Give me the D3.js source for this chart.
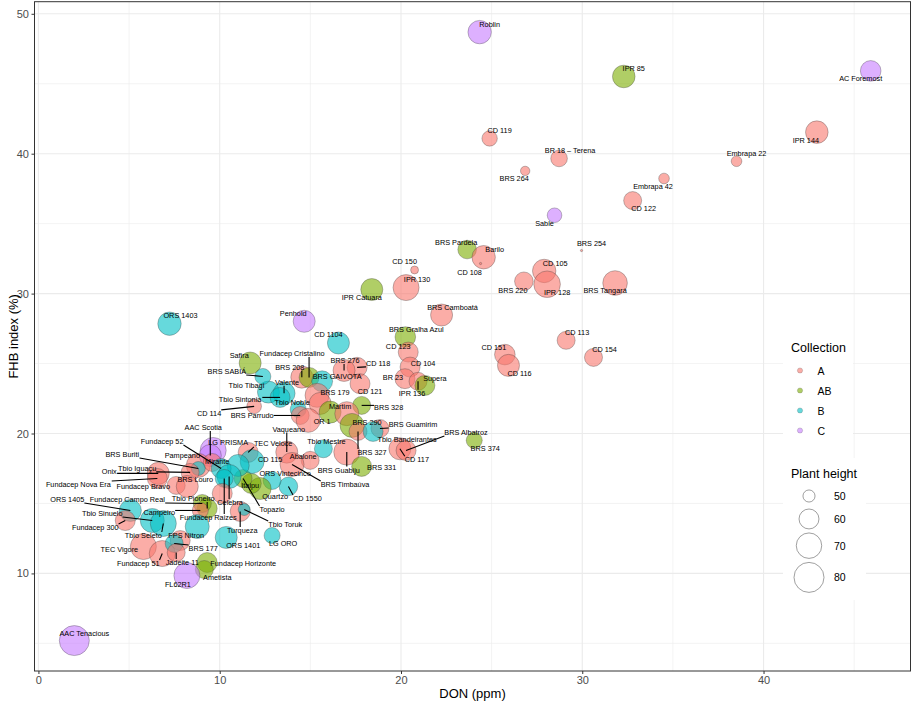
<!DOCTYPE html>
<html>
<head>
<meta charset="utf-8">
<script src="https://cdn.jsdelivr.net/npm/d3@7"></script>
<style>
  body { margin: 0; background: #fff; }
  text { font-family: 'Liberation Sans', Arial, sans-serif; }
</style>
</head>
<body>
<script>
// ---- data ----
var names = [
    'Roblin', 'IPR 85', 'AC Foremost', 'CD 119', 'BR 18 \u2013 Terena', 'BRS 264', 'IPR 144', 'Embrapa 22', 'Embrapa 42', 'CD 122',
    'Sable', 'BRS Pardela', 'Barilo', 'CD 108', 'BRS 254', 'CD 105', 'IPR 128', 'BRS 220', 'BRS Tangar\u00e1', 'BRS Camboat\u00e1',
    'CD 150', 'IPR 130', 'IPR Catuara', 'CD 113', 'CD 154', 'CD 151', 'CD 116', 'BRS Gralha Azul', 'CD 123', 'CD 104',
    'BR 23', 'IPR 136', 'Supera', 'CD 118', 'BRS 276', 'CD 121', 'BRS 208', 'Fundacep Cristalino', 'BRS GAIVOTA', 'BRS 179',
    '', 'Martim', 'BRS 328', '', 'BRS 290', 'BRS 327', 'BRS Guamirim', 'Tbio Bandeirantes', 'CD 117', 'BRS Albatroz',
    'BRS 374', 'Tbio Noble', 'BRS Parrudo', 'OR 1', 'Tbio Tibagi', 'Valente', 'Tbio Sintonia', 'CD 114', 'BRS SABI\u00c1', 'Safira',
    'Penhold', 'ORS 1403', 'CD 1104', 'Tbio Mestre', 'BRS Guabiju', 'BRS 331', 'Vaqueano', 'Abalone', 'BRS Timba\u00fava', 'CD 1550',
    'ORS Vintecinco', 'Quartzo', 'Itaipu', 'Topazio', 'TEC Veloce', 'CD 115', 'LG PRISMA', 'AAC Scotia', 'Pampeano', 'Mirante',
    '', 'Fundacep 52', 'BRS Buriti', 'Tbio Igua\u00e7u', 'Onix', 'Fundacep Nova Era', 'Fundacep Bravo', 'BRS Louro', 'Celebra', 'Fundacep Raizes',
    '', 'Tbio Pioneiro', 'Fundacep Campo Real', 'Campeiro', 'ORS 1405', 'Tbio Sinuelo', 'Fundacep 300', 'Tbio Seleto', '', 'TEC Vigore',
    'Fundacep 51', 'FPS Nitron', 'BRS 177', 'Jadeite 11', 'Fundacep Horizonte', 'Ametista', 'FL62R1', 'AAC Tenacious', 'ORS 1401', 'LG ORO',
    'Turqueza', 'Tbio Toruk'
];

var don = [
    24.34, 32.29, 45.91, 24.89, 28.72, 26.85, 42.94, 38.51, 34.51, 32.78,
    28.47, 23.65, 24.56, 24.39, 29.96, 27.90, 28.06, 26.78, 31.81, 22.24,
    20.75, 20.28, 18.39, 29.11, 30.62, 25.73, 25.93, 20.24, 20.40, 20.50,
    20.22, 20.94, 21.32, 17.58, 16.86, 17.74, 14.53, 14.93, 15.65, 15.37,
    15.54, 16.09, 17.83, 17.01, 17.30, 17.63, 18.84, 18.46, 19.94, 20.28,
    24.04, 14.33, 14.44, 14.88, 12.69, 13.55, 13.33, 11.90, 12.38, 11.68,
    14.66, 7.23, 16.55, 15.72, 17.01, 17.83, 13.70, 14.99, 13.99, 13.79,
    12.89, 12.23, 11.74, 11.29, 11.57, 11.79, 9.64, 9.48, 8.82, 9.59,
    11.02, 10.08, 8.82, 8.37, 6.61, 6.56, 7.60, 8.21, 10.52, 10.25,
    10.14, 9.31, 9.04, 8.93, 5.07, 6.28, 4.79, 6.89, 8.76, 5.79,
    6.83, 7.82, 7.49, 7.60, 9.31, 9.15, 8.19, 1.98, 10.36, 12.89,
    11.13, 11.35
];

var fhb = [
    48.69, 45.52, 45.92, 41.09, 39.66, 38.77, 41.54, 39.46, 38.23, 36.65,
    35.60, 33.15, 32.60, 32.15, 33.08, 31.62, 30.67, 30.88, 30.76, 28.47,
    31.69, 30.43, 30.29, 26.66, 25.44, 25.64, 24.87, 26.90, 25.82, 24.75,
    23.92, 23.73, 23.44, 24.73, 24.51, 23.56, 24.03, 24.01, 23.73, 22.73,
    22.15, 21.53, 22.01, 21.42, 20.58, 20.15, 20.36, 20.15, 18.91, 18.79,
    19.51, 21.72, 21.29, 20.94, 22.96, 22.87, 22.58, 21.94, 24.08, 25.04,
    28.02, 27.85, 26.47, 18.91, 18.67, 17.65, 18.67, 18.08, 17.79, 16.22,
    16.64, 16.07, 16.43, 16.79, 18.65, 18.00, 18.79, 18.43, 17.72, 17.93,
    17.72, 17.50, 17.50, 17.22, 17.15, 16.79, 16.29, 16.22, 16.93, 16.79,
    15.72, 14.64, 15.00, 14.50, 14.50, 13.78, 13.78, 13.57, 13.35, 11.92,
    11.42, 12.35, 12.14, 11.49, 10.78, 10.28, 9.85, 5.20, 12.57, 12.71,
    14.43, 14.57
];

var collection = [
    'C', 'AB', 'C', 'A', 'A', 'A', 'A', 'A', 'A', 'A',
    'C', 'AB', 'A', 'A', 'A', 'A', 'A', 'A', 'A', 'A',
    'A', 'A', 'AB', 'A', 'A', 'A', 'A', 'AB', 'A', 'A',
    'A', 'A', 'AB', 'A', 'A', 'A', 'A', 'AB', 'B', 'A',
    'A', 'AB', 'AB', 'A', 'AB', 'A', 'A', 'B', 'A', 'A',
    'AB', 'B', 'A', 'A', 'B', 'B', 'B', 'A', 'B', 'AB',
    'C', 'B', 'B', 'B', 'A', 'AB', 'A', 'A', 'A', 'B',
    'B', 'AB', 'AB', 'AB', 'A', 'B', 'C', 'C', 'A', 'A',
    'B', 'B', 'B', 'A', 'A', 'A', 'A', 'A', 'B', 'B',
    'A', 'AB', 'AB', 'A', 'B', 'B', 'A', 'B', 'B', 'A',
    'A', 'A', 'B', 'A', 'AB', 'AB', 'C', 'C', 'B', 'B',
    'A', 'B'
];

var plantHeight = [
    66.0, 64.5, 61.1, 53.6, 55.2, 47.7, 64.5, 48.7, 48.7, 57.1,
    52.7, 58.0, 66.0, 44.4, 44.4, 66.0, 72.3, 58.0, 68.3, 63.5,
    46.7, 71.1, 63.5, 57.1, 57.1, 61.1, 63.5, 61.1, 60.1, 60.1,
    60.1, 57.1, 60.1, 60.1, 63.5, 60.1, 63.5, 60.1, 61.7, 67.1,
    63.5, 63.5, 57.1, 67.1, 67.1, 57.1, 57.1, 60.1, 63.5, 60.1,
    54.4, 54.4, 57.1, 67.1, 63.5, 63.5, 60.1, 52.7, 54.4, 63.5,
    63.5, 66.0, 63.5, 57.1, 71.1, 60.1, 63.5, 57.1, 67.1, 58.0,
    57.1, 63.5, 60.1, 57.1, 60.1, 67.1, 71.1, 63.5, 67.1, 57.1,
    63.5, 60.1, 52.0, 57.1, 63.5, 60.1, 57.1, 63.5, 67.1, 57.1,
    60.1, 60.1, 57.1, 54.4, 63.5, 67.1, 60.1, 71.1, 67.1, 71.1,
    71.1, 60.1, 57.1, 57.1, 60.1, 57.1, 71.1, 80.0, 63.5, 54.4,
    60.1, 49.9
];

var collections = ['A', 'AB', 'B', 'C'];
var heightBreaks = [50, 60, 70, 80];
var xTicks = [0, 10, 20, 30, 40];
var yTicks = [10, 20, 30, 40, 50];

// label placement (pixel nudge from the point, like ggrepel left them)
var labelNudge = [
    [10, -8], [10, -8], [-10, 8], [10, -8], [11, -8], [-11, 8], [-11, 8], [10, -8], [-11, 8], [11, 8],
    [-10, 8], [-11, -7], [11, -8], [-11, 9], [10, -7], [11, -7], [10, 8], [-11, 9], [-10, 8], [11, -8],
    [-10, -8], [11, -8], [-10, 8], [11, -8], [11, -8], [-11, -7], [11, 8], [11, -7], [-10, -6], [13, -4],
    [-12, -1], [-6, 12], [10, -7], [21, -4], [1, -10], [10, 8], [-12, -10], [-17, -24], [15, -5], [18, -3],
    [0, 0], [10, -6], [27, 2], [0, 0], [15, -3], [14, 21], [33, -4], [34, 8], [17, 11], [60, -18],
    [11, 8], [-6, -7], [-48, 0], [14, 1], [-22, -7], [3, -11], [-40, 2], [-45, 7], [-36, -5], [-11, -8],
    [-11, -8], [11, -8], [-10, -8], [3, -7], [-8, 18], [20, 1], [2, -23], [-7, -4], [53, 20], [19, 12],
    [13, -7], [15, 8], [-1, 2], [29, 31], [25, -9], [18, -2], [15, -8], [-7, -28], [-16, -10], [5, -1],
    [0, 0], [-59, -27], [-76, -14], [-53, -4], [-49, -2], [-79, 6], [-33, 1], [8, -7], [1, 26], [-16, 39],
    [0, 0], [-14, -10], [-75, -4], [-41, 2], [-63, -11], [-50, -7], [-30, 7], [-20, 12], [0, 0], [-24, 3],
    [-24, 10], [6, -5], [29, 5], [6, 10], [36, 1], [13, 8], [-9, 9], [10, -7], [17, 8], [11, 8],
    [2, 19], [41, 15]
];

var width = 913, height = 703;
var panel = {left: 34.5, right: 910.5, top: 1.7, bottom: 671};

var points = names.map(function(n, i) {
    return {name: n, don: don[i], fhb: fhb[i], col: collection[i], h: plantHeight[i], nudge: labelNudge[i]};
});

function expand(ext) {
    var d = (ext[1] - ext[0]) * 0.05;
    return [ext[0] - d, ext[1] + d];
}

var x = d3.scaleLinear().domain(expand(d3.extent(don))).range([panel.left, panel.right]);
var y = d3.scaleLinear().domain(expand(d3.extent(fhb))).range([panel.bottom, panel.top]);
var size = d3.scaleRadial().domain([44.3, 80]).range([0.8, 15]);
var colour = d3.scaleOrdinal().domain(collections).range(['#F8766D', '#7CAE00', '#00BFC4', '#C77CFF']);

var svg = d3.select('body')
        .append('svg')
        .attr('width', width)
        .attr('height', height);

// Panel background and grid
svg.append('rect')
        .attr('x', panel.left).attr('y', panel.top)
        .attr('width', panel.right - panel.left)
        .attr('height', panel.bottom - panel.top)
        .attr('fill', 'white');

var grid = svg.append('g');
grid.selectAll('.xminor').data(x.ticks(10).filter(function(t) { return xTicks.indexOf(t) < 0; }))
    .enter().append('line')
        .attr('x1', function(d) { return x(d); }).attr('x2', function(d) { return x(d); })
        .attr('y1', panel.top).attr('y2', panel.bottom)
        .attr('stroke', '#ebebeb').attr('stroke-width', 0.6);
grid.selectAll('.yminor').data(y.ticks(10).filter(function(t) { return yTicks.indexOf(t) < 0; }))
    .enter().append('line')
        .attr('y1', function(d) { return y(d); }).attr('y2', function(d) { return y(d); })
        .attr('x1', panel.left).attr('x2', panel.right)
        .attr('stroke', '#ebebeb').attr('stroke-width', 0.6);
grid.selectAll('.xmajor').data(xTicks)
    .enter().append('line')
        .attr('x1', function(d) { return x(d); }).attr('x2', function(d) { return x(d); })
        .attr('y1', panel.top).attr('y2', panel.bottom)
        .attr('stroke', '#ebebeb').attr('stroke-width', 1.1);
grid.selectAll('.ymajor').data(yTicks)
    .enter().append('line')
        .attr('y1', function(d) { return y(d); }).attr('y2', function(d) { return y(d); })
        .attr('x1', panel.left).attr('x2', panel.right)
        .attr('stroke', '#ebebeb').attr('stroke-width', 1.1);

// Legend boxes sit inside the panel, on white
svg.append('rect').attr('x', 783).attr('y', 335).attr('width', 70).attr('height', 110).attr('fill', 'white');
svg.append('rect').attr('x', 783).attr('y', 458).attr('width', 83).attr('height', 142).attr('fill', 'white');

// Points
svg.append('g').selectAll('circle').data(points)
    .enter().append('circle')
        .attr('cx', function(d) { return x(d.don); })
        .attr('cy', function(d) { return y(d.fhb); })
        .attr('r', function(d) { return size(d.h); })
        .attr('fill', function(d) { return colour(d.col); })
        .attr('fill-opacity', 0.6)
        .attr('stroke', '#3a3a3a')
        .attr('stroke-opacity', 0.55)
        .attr('stroke-width', 0.6);

// Labels with repel-style segments
var segs = svg.append('g');
var labs = svg.append('g');
points.forEach(function(d) {
    if (!d.name) return;
    var px = x(d.don), py = y(d.fhb);
    var t = labs.append('text')
            .attr('x', px + d.nudge[0])
            .attr('y', py + d.nudge[1])
            .attr('text-anchor', 'middle')
            .attr('dominant-baseline', 'central')
            .attr('font-size', '7.3px')
            .attr('fill', '#000')
            .text(d.name);
    var b = t.node().getBBox();
    var cx = Math.max(b.x, Math.min(px, b.x + b.width));
    var cy = Math.max(b.y + 1, Math.min(py, b.y + b.height - 1));
    if (Math.hypot(cx - px, cy - py) > 6.5) {
        segs.append('line')
                .attr('x1', px).attr('y1', py)
                .attr('x2', cx).attr('y2', cy)
                .attr('stroke', '#000')
                .attr('stroke-width', 1.1);
    }
});

// Panel border
svg.append('rect')
        .attr('x', panel.left).attr('y', panel.top)
        .attr('width', panel.right - panel.left)
        .attr('height', panel.bottom - panel.top)
        .attr('fill', 'none')
        .attr('stroke', '#333')
        .attr('stroke-width', 1);

// Axes
var xAxis = svg.append('g')
        .attr('transform', 'translate(0,' + panel.bottom + ')')
        .call(d3.axisBottom(x).tickValues(xTicks).tickSize(3).tickPadding(2.5));
var yAxis = svg.append('g')
        .attr('transform', 'translate(' + panel.left + ',0)')
        .call(d3.axisLeft(y).tickValues(yTicks).tickSize(3).tickPadding(2.5));
[xAxis, yAxis].forEach(function(a) {
    a.select('.domain').remove();
    a.selectAll('line').attr('stroke', '#333');
    a.selectAll('text')
            .attr('fill', '#4d4d4d')
            .style('font-family', "'Liberation Sans', Arial, sans-serif")
            .style('font-size', '11px');
});

svg.append('text')
        .attr('x', (panel.left + panel.right) / 2)
        .attr('y', 698)
        .attr('text-anchor', 'middle')
        .attr('font-size', '13px')
        .text('DON (ppm)');
svg.append('text')
        .attr('transform', 'translate(13,' + (panel.top + panel.bottom) / 2 + ') rotate(-90)')
        .attr('text-anchor', 'middle')
        .attr('dominant-baseline', 'central')
        .attr('font-size', '13px')
        .text('FHB index (%)');

// Legend: Collection
var legX = 791;
svg.append('text').attr('x', legX).attr('y', 352).attr('font-size', '12.5px').text('Collection');
var keyY = d3.scalePoint().domain(collections).range([370.5, 430.5]);
var keys = svg.append('g').selectAll('g').data(collections).enter().append('g');
keys.append('circle')
        .attr('cx', 800).attr('cy', function(d) { return keyY(d); })
        .attr('r', 2.6)
        .attr('fill', function(d) { return colour(d); })
        .attr('fill-opacity', 0.6)
        .attr('stroke', '#3a3a3a').attr('stroke-opacity', 0.4).attr('stroke-width', 0.5);
keys.append('text')
        .attr('x', 817.5).attr('y', function(d) { return keyY(d); })
        .attr('dominant-baseline', 'central')
        .attr('font-size', '10.5px')
        .text(function(d) { return d; });

// Legend: Plant height
svg.append('text').attr('x', legX).attr('y', 478).attr('font-size', '12.5px').text('Plant height');
var sizeY = {};
var yy = 485;
heightBreaks.forEach(function(h) {
    var rr = size(h);
    var slot = Math.max(22, 2 * rr + 4);
    sizeY[h] = yy + slot / 2;
    yy += slot;
});
var skeys = svg.append('g').selectAll('g').data(heightBreaks).enter().append('g');
skeys.append('circle')
        .attr('cx', 809).attr('cy', function(d) { return sizeY[d]; })
        .attr('r', function(d) { return size(d); })
        .attr('fill', 'none')
        .attr('stroke', '#555').attr('stroke-opacity', 0.8).attr('stroke-width', 0.7);
skeys.append('text')
        .attr('x', 834).attr('y', function(d) { return sizeY[d]; })
        .attr('dominant-baseline', 'central')
        .attr('font-size', '10.5px')
        .text(function(d) { return d; });
</script>
</body>
</html>
